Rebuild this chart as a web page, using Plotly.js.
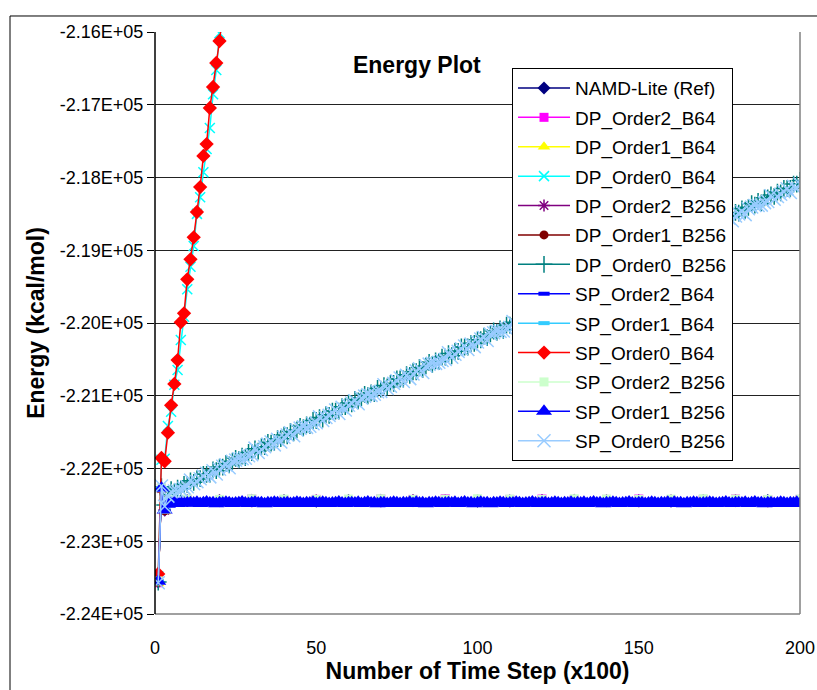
<!DOCTYPE html>
<html>
<head>
<meta charset="utf-8">
<script src="https://cdn.plot.ly/plotly-3.0.1.min.js"></script>
<style>html,body{margin:0;padding:0;background:#fff;}#chart{width:817px;height:690px;}</style>
</head>
<body>
<div id="chart"></div>
<script>
// ---- categories / tick labels ----
const seriesNames = ['NAMD-Lite (Ref)','DP_Order2_B64','DP_Order1_B64','DP_Order0_B64','DP_Order2_B256','DP_Order1_B256','DP_Order0_B256','SP_Order2_B64','SP_Order1_B64','SP_Order0_B64','SP_Order2_B256','SP_Order1_B256','SP_Order0_B256'];
const xTickVals = [0,50,100,150,200];
const xTickText = ['0','50','100','150','200'];
const yTickVals = [-216000,-217000,-218000,-219000,-220000,-221000,-222000,-223000,-224000];
const yTickText = ['-2.16E+05','-2.17E+05','-2.18E+05','-2.19E+05','-2.20E+05','-2.21E+05','-2.22E+05','-2.23E+05','-2.24E+05'];

// ---- time steps (x100) ----
const stepsAll = [
1,2,3,4,5,6,7,8,9,10,11,12,13,14,15,16,17,18,19,20,
21,22,23,24,25,26,27,28,29,30,31,32,33,34,35,36,37,38,39,40,
41,42,43,44,45,46,47,48,49,50,51,52,53,54,55,56,57,58,59,60,
61,62,63,64,65,66,67,68,69,70,71,72,73,74,75,76,77,78,79,80,
81,82,83,84,85,86,87,88,89,90,91,92,93,94,95,96,97,98,99,100,
101,102,103,104,105,106,107,108,109,110,111,112,113,114,115,116,117,118,119,120,
121,122,123,124,125,126,127,128,129,130,131,132,133,134,135,136,137,138,139,140,
141,142,143,144,145,146,147,148,149,150,151,152,153,154,155,156,157,158,159,160,
161,162,163,164,165,166,167,168,169,170,171,172,173,174,175,176,177,178,179,180,
181,182,183,184,185,186,187,188,189,190,191,192,193,194,195,196,197,198,199,200];
const stepsSteep = [1,2,3,4,5,6,7,8,9,10,11,12,13,14,15,16,17,18,19,20,21];
const stepsCoarse = [1,2,3,4,5,10,20,30,40,50,60,70,80,90,100,110,120,130,140,150,160,170,180,190,200];

// ---- energies (kcal/mol) ----
const namdRef      = [-223560,-222280,-222570,-222460,-222445,-222440,-222445,-222435,-222440,-222450,-222440,-222435,-222445,-222440,-222450,-222445,-222440,-222435,-222445,-222440,-222450,-222440,-222445,-222440,-222445];
const dpOrder2B64  = [-223570,-222270,-222560,-222450,-222430,-222425,-222430,-222420,-222435,-222425,-222430,-222420,-222425,-222415,-222430,-222425,-222420,-222430,-222425,-222420,-222435,-222425,-222420,-222430,-222425];
const dpOrder1B64  = [-223580,-222290,-222590,-222480,-222465,-222470,-222475,-222465,-222470,-222480,-222470,-222465,-222475,-222470,-222465,-222470,-222475,-222470,-222465,-222475,-222470,-222480,-222470,-222465,-222470];
const dpOrder0B64  = [-223480,-221880,-221865,-221416,-221219,-220850,-220646,-220234,-219913,-219537,-219226,-218942,-218500,-218272,-217929,-217608,-217320,-216856,-216522,-216018,-215650];
const dpOrder2B256 = [-223560,-222275,-222575,-222465,-222445,-222445,-222440,-222450,-222445,-222440,-222445,-222450,-222440,-222445,-222440,-222450,-222445,-222440,-222445,-222450,-222440,-222445,-222440,-222450,-222445];
const dpOrder1B256 = [-223565,-222285,-222580,-222470,-222450,-222450,-222445,-222455,-222450,-222445,-222450,-222455,-222445,-222450,-222445,-222455,-222450,-222445,-222450,-222455,-222445,-222450,-222445,-222455,-222450];
const dpOrder0B256 = [
-223560,-222250,-222500,-222360,-222290,-222320,-222270,-222280,-222220,-222220,
-222170,-222190,-222140,-222140,-222080,-222080,-222080,-222020,-222030,-221980,
-221980,-221930,-221950,-221900,-221860,-221880,-221830,-221850,-221780,-221780,
-221730,-221760,-221700,-221700,-221640,-221650,-221640,-221590,-221590,-221540,
-221550,-221490,-221510,-221470,-221420,-221440,-221400,-221410,-221340,-221340,
-221300,-221320,-221260,-221270,-221210,-221210,-221210,-221150,-221150,-221100,
-221110,-221050,-221070,-221030,-220980,-221000,-220960,-220970,-220900,-220910,
-220860,-220880,-220830,-220830,-220770,-220770,-220770,-220710,-220720,-220670,
-220670,-220610,-220640,-220590,-220540,-220570,-220520,-220530,-220470,-220470,
-220420,-220450,-220390,-220390,-220330,-220330,-220330,-220280,-220280,-220230,
-220230,-220180,-220200,-220150,-220110,-220130,-220080,-220100,-220030,-220030,
-219990,-220010,-219950,-219960,-219890,-219900,-219890,-219840,-219840,-219790,
-219800,-219740,-219760,-219720,-219670,-219690,-219650,-219660,-219590,-219600,
-219550,-219570,-219510,-219520,-219460,-219460,-219460,-219400,-219400,-219360,
-219360,-219300,-219330,-219280,-219230,-219260,-219210,-219220,-219160,-219160,
-219110,-219130,-219080,-219080,-219020,-219020,-219020,-218960,-218970,-218920,
-218920,-218870,-218890,-218840,-218800,-218820,-218770,-218780,-218720,-218720,
-218670,-218700,-218640,-218640,-218580,-218590,-218580,-218530,-218530,-218480,
-218490,-218430,-218450,-218410,-218360,-218380,-218330,-218350,-218280,-218280,
-218240,-218260,-218200,-218210,-218150,-218150,-218150,-218090,-218090,-218040];
const spOrder2B64  = [-223555,-222275,-222565,-222460,-222445,-222440,-222450,-222445,-222440,-222450,-222445,-222440,-222445,-222450,-222440,-222445,-222450,-222440,-222445,-222440,-222450,-222445,-222440,-222450,-222445];
const spOrder1B64  = [-223550,-222270,-222570,-222465,-222440,-222445,-222440,-222450,-222440,-222445,-222450,-222440,-222445,-222440,-222450,-222445,-222440,-222445,-222450,-222440,-222445,-222440,-222450,-222445,-222440];
const spOrder0B64  = [-223450,-221856,-221900,-221508,-221131,-220838,-220509,-219990,-219867,-219400,-219125,-218822,-218474,-218131,-217704,-217540,-217045,-216756,-216426,-216124,-215750];
const spOrder2B256 = [-223545,-222265,-222560,-222455,-222425,-222420,-222425,-222415,-222420,-222425,-222420,-222415,-222425,-222420,-222415,-222420,-222425,-222415,-222420,-222425,-222420,-222415,-222420,-222425,-222420];
const spOrder1B256 = [
-223550,-222270,-222570,-222490,-222475,-222470,-222480,-222470,-222475,-222470,
-222470,-222475,-222465,-222480,-222470,-222460,-222475,-222470,-222485,-222470,
-222475,-222465,-222470,-222480,-222475,-222470,-222460,-222475,-222480,-222470,
-222465,-222475,-222470,-222485,-222470,-222475,-222465,-222470,-222480,-222475,
-222470,-222480,-222475,-222465,-222470,-222480,-222470,-222475,-222465,-222480,
-222475,-222465,-222470,-222480,-222475,-222470,-222460,-222475,-222480,-222470,
-222470,-222475,-222465,-222480,-222470,-222460,-222475,-222470,-222485,-222470,
-222470,-222480,-222475,-222465,-222470,-222480,-222470,-222475,-222465,-222480,
-222465,-222475,-222470,-222485,-222470,-222475,-222465,-222470,-222480,-222475,
-222470,-222475,-222465,-222480,-222470,-222460,-222475,-222470,-222485,-222470,
-222465,-222475,-222470,-222485,-222470,-222475,-222465,-222470,-222480,-222475,
-222475,-222465,-222470,-222480,-222475,-222470,-222460,-222475,-222480,-222470,
-222470,-222480,-222475,-222465,-222470,-222480,-222470,-222475,-222465,-222480,
-222470,-222475,-222465,-222480,-222470,-222460,-222475,-222470,-222485,-222470,
-222475,-222465,-222470,-222480,-222475,-222470,-222460,-222475,-222480,-222470,
-222470,-222480,-222475,-222465,-222470,-222480,-222470,-222475,-222465,-222480,
-222465,-222475,-222470,-222485,-222470,-222475,-222465,-222470,-222480,-222475,
-222475,-222465,-222470,-222480,-222475,-222470,-222460,-222475,-222480,-222470,
-222470,-222475,-222465,-222480,-222470,-222460,-222475,-222470,-222485,-222470,
-222470,-222480,-222475,-222465,-222470,-222480,-222470,-222475,-222465,-222480];
const spOrder0B256 = [
-223570,-222240,-222520,-222380,-222320,-222310,-222310,-222290,-222270,-222250,
-222160,-222210,-222180,-222140,-222105,-222065,-222115,-222030,-222075,-222010,
-221970,-221950,-221990,-221900,-221885,-221865,-221865,-221860,-221825,-221810,
-221720,-221780,-221740,-221700,-221665,-221635,-221675,-221600,-221635,-221570,
-221540,-221510,-221550,-221470,-221445,-221425,-221435,-221420,-221385,-221370,
-221290,-221340,-221300,-221270,-221235,-221195,-221245,-221160,-221195,-221130,
-221100,-221070,-221110,-221030,-221005,-220985,-220995,-220980,-220945,-220940,
-220850,-220900,-220870,-220830,-220795,-220755,-220805,-220720,-220765,-220700,
-220660,-220630,-220680,-220590,-220565,-220555,-220555,-220540,-220515,-220500,
-220410,-220470,-220430,-220390,-220355,-220315,-220365,-220290,-220325,-220260,
-220220,-220200,-220240,-220150,-220135,-220115,-220115,-220110,-220075,-220060,
-219980,-220030,-219990,-219960,-219915,-219885,-219925,-219850,-219885,-219820,
-219790,-219760,-219800,-219720,-219695,-219675,-219685,-219670,-219635,-219630,
-219540,-219590,-219550,-219520,-219485,-219445,-219495,-219410,-219445,-219390,
-219350,-219320,-219370,-219280,-219255,-219245,-219245,-219230,-219205,-219210,
-219120,-219170,-219140,-219100,-219065,-219025,-219075,-218990,-219035,-218970,
-218930,-218910,-218950,-218860,-218845,-218825,-218825,-218810,-218785,-218770,
-218680,-218740,-218700,-218660,-218625,-218595,-218635,-218560,-218595,-218530,
-218500,-218470,-218510,-218430,-218405,-218385,-218385,-218380,-218345,-218330,
-218250,-218300,-218260,-218230,-218195,-218155,-218205,-218120,-218155,-218090];

// ---- styles ----
const xs = [stepsCoarse,stepsCoarse,stepsCoarse,stepsSteep,stepsCoarse,stepsCoarse,stepsAll,stepsCoarse,stepsCoarse,stepsSteep,stepsCoarse,stepsAll,stepsAll];
const ys = [namdRef,dpOrder2B64,dpOrder1B64,dpOrder0B64,dpOrder2B256,dpOrder1B256,dpOrder0B256,spOrder2B64,spOrder1B64,spOrder0B64,spOrder2B256,spOrder1B256,spOrder0B256];
const colors = ['#000080','#FF00FF','#FFFF00','#00FFFF','#800080','#800000','#008080','#0000FF','#33CCFF','#FF0000','#CCFFCC','#0000FF','#99CCFF'];
const symbols = ['diamond','square','triangle-up','x-thin-open','asterisk-open','circle','cross-thin-open','line-ew-open','line-ew-open','diamond','square','triangle-up','x-thin-open'];
const sizes = [10,9,11,10,10,9,12,8,8,11,9,14,13];

const traces = seriesNames.map((name,i) => {
  const open = symbols[i].indexOf('open') >= 0;
  return {
    type:'scatter', mode:'lines+markers', name:name, legendgroup:'g'+i,
    x: xs[i], y: ys[i],
    line:{color:colors[i], width:1.5},
    marker:{symbol:symbols[i], size:sizes[i], color:colors[i],
            line:{color:colors[i], width: open ? (symbols[i]==='line-ew-open' ? 4 : 1.5) : 0}}
  };
});

const layout = {
  width:817, height:690,
  margin:{l:155, r:17, t:32, b:76, pad:0},
  paper_bgcolor:'#fff', plot_bgcolor:'#fff',
  font:{family:'"Liberation Sans", Arial, sans-serif', color:'#000', size:18},
  title:{text:'<b>Energy Plot</b>', font:{size:23, color:'#000'}, xref:'paper', x:0.406, xanchor:'center', yref:'container', y:1-65/690, yanchor:'middle'},
  showlegend:true,
  legend:{x:0.5535, y:0.938, xanchor:'left', yanchor:'top', bgcolor:'#fff', bordercolor:'#000', borderwidth:1,
          font:{size:19, color:'#000'}, tracegroupgap:1.7, itemwidth:52},
  xaxis:{range:[0,200], tickvals:xTickVals, ticktext:xTickText, showgrid:false, zeroline:false, showline:false,
         ticks:'', ticklabelstandoff:21, tickfont:{size:18},
         title:{text:'<b>Number of Time Step (x100)</b>', font:{size:23}, standoff:2}},
  yaxis:{range:[-224000,-216000], tickvals:yTickVals, ticktext:yTickText, showgrid:true, gridcolor:'#222', gridwidth:1,
         zeroline:false, showline:false, ticks:'outside', ticklen:7, tickcolor:'#000', tickwidth:1, tickfont:{size:18},
         title:{text:'<b>Energy (kcal/mol)</b>', font:{size:23}, standoff:8}},
  shapes:[
    {type:'line', xref:'paper', yref:'paper', x0:1, x1:1, y0:0, y1:1, line:{color:'#808080', width:1.5}},
    {type:'line', xref:'paper', yref:'paper', x0:0, x1:1, y0:0, y1:0, line:{color:'#808080', width:1.5}},
    {type:'line', xref:'paper', yref:'paper', x0:0, x1:0, y0:0, y1:1, line:{color:'#000', width:1.5}},
    {type:'rect', xref:'paper', yref:'paper', x0:-0.2248, x1:1.03, y0:-0.14, y1:1.0275, line:{color:'#000', width:1}}
  ]
};

Plotly.newPlot('chart', traces, layout, {staticPlot:true, displayModeBar:false});
</script>
</body>
</html>
